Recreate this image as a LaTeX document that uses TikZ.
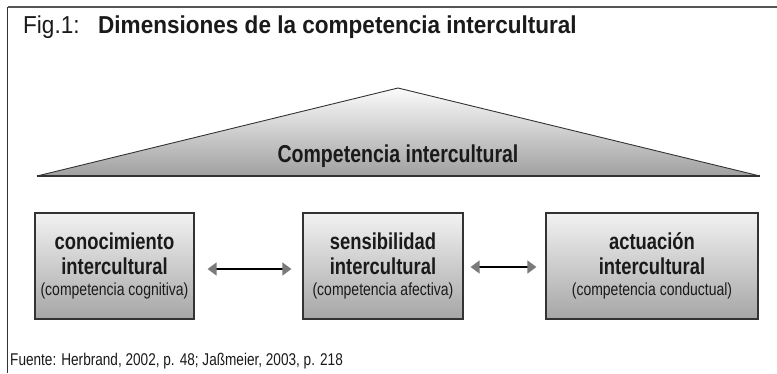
\documentclass[tikz,border=0pt]{standalone}
\usepackage{fontspec}
\setmainfont{Liberation Sans}
\newfontfamily\cond[FakeStretch=0.8]{Liberation Sans}
\newfontfamily\semicond[FakeStretch=0.92]{Liberation Sans}
\usetikzlibrary{arrows.meta}
\definecolor{framegray}{HTML}{555555}
\definecolor{edgegray}{HTML}{333333}
\definecolor{boxtop}{HTML}{F2F2F2}
\definecolor{boxbot}{HTML}{A6A6A6}
\definecolor{tritop}{HTML}{FBFBFB}
\definecolor{tribot}{HTML}{A0A0A0}
\definecolor{tipgray}{HTML}{7A7A7A}
\definecolor{txt}{HTML}{1A1A1A}
\tikzset{
  dimbox/.style={draw=edgegray, line width=1.2pt, top color=boxtop, bottom color=boxbot,
    minimum height=106pt, inner sep=0pt, align=center, text=txt,
    font=\cond\fontsize{23}{25}\selectfont\bfseries},
  linkarrow/.style={line width=1.5pt, draw=black,
    {Triangle[length=9pt,width=13pt,color=tipgray]}-{Triangle[length=9pt,width=13pt,color=tipgray]}},
}
\newcommand{\subline}[1]{{\fontsize{17.5}{19}\selectfont\mdseries #1}}
\begin{document}
\begin{tikzpicture}[x=1pt,y=-1pt]
\useasboundingbox (0,0) rectangle (777,373);
% frame
\coordinate (fc) at (7.5,7);
\coordinate (fr) at (777,7);
\coordinate (fb) at (7.5,373);
\draw[framegray, line width=2pt] (fc) -- (fr);
\draw[edgegray, line width=1.3pt] (fc) -- (fb);
% title
\node[anchor=base west, inner sep=0pt, text=txt, font=\semicond\fontsize{24.5}{27}\selectfont] (fig) at (23,33) {Fig.1:};
\node[anchor=base west, inner sep=0pt, text=txt, font=\semicond\fontsize{24.5}{27}\selectfont\bfseries] (title) at (98,33) {Dimensiones de la competencia intercultural};
% triangle
\coordinate (apex) at (398,88);
\coordinate (tl) at (37,176);
\coordinate (tr) at (760,176);
\shade[top color=tritop, bottom color=tribot] (apex) -- (tr) -- (tl) -- cycle;
\draw[edgegray, line width=0.9pt, line join=miter] (tl) -- (apex) -- (tr);
\draw[edgegray, line width=1.3pt] (tl) -- (tr);
\node[anchor=base, inner sep=0pt, text=txt, font=\cond\fontsize{24.4}{26}\selectfont\bfseries] (comp) at (398,162) {Competencia intercultural};
% boxes
\node[dimbox, minimum width=159pt] (b1) at (114.5,266) {conocimiento\\intercultural\\[-4pt]\subline{(competencia cognitiva)}};
\node[dimbox, minimum width=160pt] (b2) at (383,266) {sensibilidad\\intercultural\\[-4pt]\subline{(competencia afectiva)}};
\node[dimbox, minimum width=212pt] (b3) at (652,266) {actuación\\intercultural\\[-4pt]\subline{(competencia conductual)}};
% arrows
\draw[linkarrow, shorten <=13pt, shorten >=11pt] ([yshift=-3pt]b1.east) -- ([yshift=-3pt]b2.west);
\draw[linkarrow, shorten <=7pt, shorten >=9pt] ([yshift=-1pt]b2.east) -- ([yshift=-1pt]b3.west);
% footer
\node[anchor=base west, inner sep=0pt, text=txt, font=\cond\fontsize{17}{19}\selectfont] (src) at (10,365) {Fuente: Herbrand, 2002, p. 48; Jaßmeier, 2003, p. 218};
\end{tikzpicture}
\end{document}
